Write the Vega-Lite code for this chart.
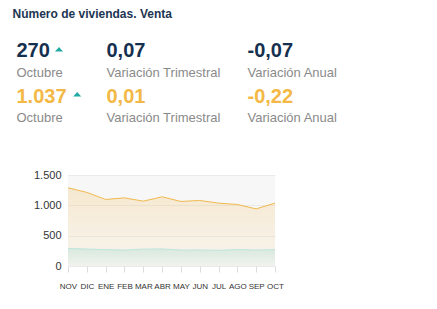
{
  "$schema": "https://vega.github.io/schema/vega-lite/v6.json",
  "autosize": "none",
  "width": 207,
  "height": 91,
  "padding": {"left": 68, "top": 175, "right": 162, "bottom": 43},
  "background": "white",
  "title": {
    "text": "Número de viviendas. Venta",
    "anchor": "start",
    "fontSize": 12,
    "fontWeight": "bold",
    "color": "#1c3553",
    "font": "Liberation Sans",
    "offset": 20,
    "dx": -4
  },
  "config": {
    "font": "Liberation Sans",
    "locale": {"number": {"decimal": ",", "thousands": ".", "grouping": [3], "currency": ["", " €"]}}
  },
  "view": {"fill": "#f7f7f7", "stroke": null},
  "datasets": {
    "serie": [
      {"mes": "NOV", "serie": "Serie 2", "valor": 1289},
      {"mes": "DIC", "serie": "Serie 2", "valor": 1213},
      {"mes": "ENE", "serie": "Serie 2", "valor": 1097},
      {"mes": "FEB", "serie": "Serie 2", "valor": 1123},
      {"mes": "MAR", "serie": "Serie 2", "valor": 1069},
      {"mes": "ABR", "serie": "Serie 2", "valor": 1140},
      {"mes": "MAY", "serie": "Serie 2", "valor": 1064},
      {"mes": "JUN", "serie": "Serie 2", "valor": 1080},
      {"mes": "JUL", "serie": "Serie 2", "valor": 1036},
      {"mes": "AGO", "serie": "Serie 2", "valor": 1014},
      {"mes": "SEP", "serie": "Serie 2", "valor": 941},
      {"mes": "OCT", "serie": "Serie 2", "valor": 1037},
      {"mes": "NOV", "serie": "Serie 1", "valor": 290},
      {"mes": "DIC", "serie": "Serie 1", "valor": 280},
      {"mes": "ENE", "serie": "Serie 1", "valor": 270},
      {"mes": "FEB", "serie": "Serie 1", "valor": 262},
      {"mes": "MAR", "serie": "Serie 1", "valor": 278},
      {"mes": "ABR", "serie": "Serie 1", "valor": 282},
      {"mes": "MAY", "serie": "Serie 1", "valor": 262},
      {"mes": "JUN", "serie": "Serie 1", "valor": 265},
      {"mes": "JUL", "serie": "Serie 1", "valor": 258},
      {"mes": "AGO", "serie": "Serie 1", "valor": 272},
      {"mes": "SEP", "serie": "Serie 1", "valor": 262},
      {"mes": "OCT", "serie": "Serie 1", "valor": 270}
    ],
    "resumen": [
      {"serie": "Serie 1", "metrica": "Octubre", "valor": "270", "tendencia": "sube"},
      {"serie": "Serie 1", "metrica": "Variación Trimestral", "valor": "0,07"},
      {"serie": "Serie 1", "metrica": "Variación Anual", "valor": "-0,07"},
      {"serie": "Serie 2", "metrica": "Octubre", "valor": "1.037", "tendencia": "sube"},
      {"serie": "Serie 2", "metrica": "Variación Trimestral", "valor": "0,01"},
      {"serie": "Serie 2", "metrica": "Variación Anual", "valor": "-0,22"}
    ]
  },
  "resolve": {"scale": {"x": "independent", "y": "independent", "color": "independent"}},
  "layer": [
    {
      "data": {"name": "serie"},
      "encoding": {
        "x": {
          "field": "mes", "type": "ordinal",
          "sort": ["NOV","DIC","ENE","FEB","MAR","ABR","MAY","JUN","JUL","AGO","SEP","OCT"],
          "scale": {"type": "point", "padding": 0},
          "axis": {"title": null, "labelAngle": 0, "labelFontSize": 8, "labelColor": "#333", "domain": false, "ticks": true, "tickColor": "#dddddd", "tickSize": 6, "labelPadding": 10, "grid": false}
        },
        "y": {
          "field": "valor", "type": "quantitative",
          "scale": {"domain": [0, 1500], "nice": false},
          "axis": {"title": null, "values": [0, 500, 1000, 1500], "format": ",d", "labelFontSize": 11, "labelColor": "#333", "domain": false, "ticks": false, "labelPadding": 7, "gridColor": "#eaeaea"}
        }
      },
      "layer": [
        {
          "transform": [{"filter": "datum.serie === 'Serie 2'"}],
          "mark": {
            "type": "area",
            "line": {"color": "#f1b94f", "strokeWidth": 1},
            "fill": {"gradient": "linear", "x1": 0, "y1": 0, "x2": 0, "y2": 1,
              "stops": [{"offset": 0, "color": "rgba(243,182,70,0.32)"}, {"offset": 1, "color": "rgba(243,182,70,0.06)"}]}
          }
        },
        {
          "transform": [{"filter": "datum.serie === 'Serie 1'"}],
          "mark": {
            "type": "area",
            "line": {"color": "#bfe5dd", "strokeWidth": 1},
            "fill": {"gradient": "linear", "x1": 0, "y1": 0, "x2": 0, "y2": 1,
              "stops": [{"offset": 0, "color": "rgba(150,215,200,0.45)"}, {"offset": 1, "color": "rgba(150,215,200,0.08)"}]}
          }
        }
      ]
    },
    {
      "data": {"name": "resumen"},
      "encoding": {
        "x": {"field": "metrica", "type": "nominal",
          "scale": {"type": "point", "domain": ["Octubre", "Variación Trimestral", "Variación Anual"], "range": [-51.5, 179.5], "padding": 0},
          "axis": null},
        "y": {"field": "serie", "type": "nominal",
          "scale": {"type": "point", "domain": ["Serie 1", "Serie 2"], "range": [-117.7, -72.3], "padding": 0},
          "axis": null}
      },
      "layer": [
        {
          "transform": [{"filter": "datum.metrica !== 'Variación Trimestral'"}],
          "mark": {"type": "text", "align": "left", "baseline": "alphabetic", "fontSize": 20, "fontWeight": "bold"},
          "encoding": {
            "text": {"field": "valor"},
            "color": {"field": "serie", "type": "nominal", "scale": {"domain": ["Serie 1", "Serie 2"], "range": ["#15304f", "#f3b845"]}, "legend": null}
          }
        },
        {
          "transform": [{"filter": "datum.metrica === 'Variación Trimestral'"}],
          "mark": {"type": "text", "align": "left", "baseline": "alphabetic", "fontSize": 20, "fontWeight": "bold", "dx": -25.5},
          "encoding": {
            "text": {"field": "valor"},
            "color": {"field": "serie", "type": "nominal", "scale": {"domain": ["Serie 1", "Serie 2"], "range": ["#15304f", "#f3b845"]}, "legend": null}
          }
        },
        {
          "transform": [{"filter": "datum.metrica !== 'Variación Trimestral'"}],
          "mark": {"type": "text", "align": "left", "baseline": "alphabetic", "fontSize": 13, "color": "#8a8a8a", "dy": 19.5},
          "encoding": {"text": {"field": "metrica"}}
        },
        {
          "transform": [{"filter": "datum.metrica === 'Variación Trimestral'"}],
          "mark": {"type": "text", "align": "left", "baseline": "alphabetic", "fontSize": 13, "color": "#8a8a8a", "dy": 19.5, "dx": -25.5},
          "encoding": {"text": {"field": "metrica"}}
        },
        {
          "transform": [{"filter": "datum.tendencia === 'sube' && datum.serie === 'Serie 1'"}],
          "mark": {"type": "point", "filled": true, "opacity": 1, "color": "#21aaa3", "size": 64, "shape": "M-1,0.56L1,0.56L0,-0.56Z", "xOffset": 42.5, "yOffset": -8}
        },
        {
          "transform": [{"filter": "datum.tendencia === 'sube' && datum.serie === 'Serie 2'"}],
          "mark": {"type": "point", "filled": true, "opacity": 1, "color": "#21aaa3", "size": 64, "shape": "M-1,0.56L1,0.56L0,-0.56Z", "xOffset": 60.7, "yOffset": -8.5}
        }
      ]
    }
  ]
}
